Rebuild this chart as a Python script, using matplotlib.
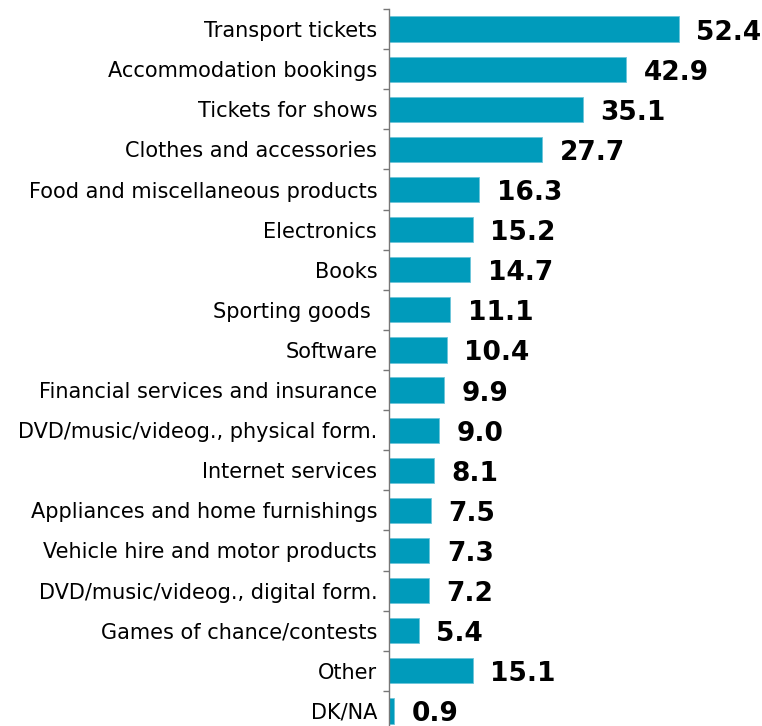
import matplotlib.pyplot as plt
from matplotlib.ticker import FixedLocator

plt.rcParams["font.family"] = ["DejaVu Sans"]

categories = [
    "Transport tickets",
    "Accommodation bookings",
    "Tickets for shows",
    "Clothes and accessories",
    "Food and miscellaneous products",
    "Electronics",
    "Books",
    "Sporting goods ",
    "Software",
    "Financial services and insurance",
    "DVD/music/videog., physical form.",
    "Internet services",
    "Appliances and home furnishings",
    "Vehicle hire and motor products",
    "DVD/music/videog., digital form.",
    "Games of chance/contests",
    "Other",
    "DK/NA",
]
values = [52.4, 42.9, 35.1, 27.7, 16.3, 15.2, 14.7, 11.1, 10.4,
          9.9, 9.0, 8.1, 7.5, 7.3, 7.2, 5.4, 15.1, 0.9]

W, H = 762, 726
fig = plt.figure(figsize=(W / 100, H / 100), dpi=100)
# axes placed in pixel terms; bottom row runs slightly past the figure edge
left, right, top, bottom = 389, 762, 9, 731
ax = fig.add_axes([left / W, 1 - bottom / H, (right - left) / W, (bottom - top) / H])

pos = list(range(len(categories)))
ax.barh(pos, values, height=0.63, color="#009bbb", edgecolor="#6cc6da", linewidth=0.6)

for p, v in zip(pos, values):
    ax.annotate(f"{v:.1f}", (v, p), xytext=(12.5, -2.5), textcoords="offset points",
                ha="left", va="center", fontsize=19, fontweight="bold", color="black")

ax.set_xlim(0, 67.4)
ax.set_ylim(len(categories) - 0.5, -0.5)
ax.set_yticks(pos)
ax.set_yticklabels(categories, fontsize=15)
ax.yaxis.set_minor_locator(FixedLocator([p - 0.5 for p in pos] + [len(pos) - 0.5]))
ax.tick_params(axis="y", which="major", length=0, pad=8.5)
ax.tick_params(axis="y", which="minor", length=4, width=1, color="#777777", direction="out")
ax.set_xticks([])

for s in ["top", "right", "bottom"]:
    ax.spines[s].set_visible(False)
ax.spines["left"].set_color("#777777")
ax.spines["left"].set_linewidth(1)

fig.savefig("out.png", dpi=100)
